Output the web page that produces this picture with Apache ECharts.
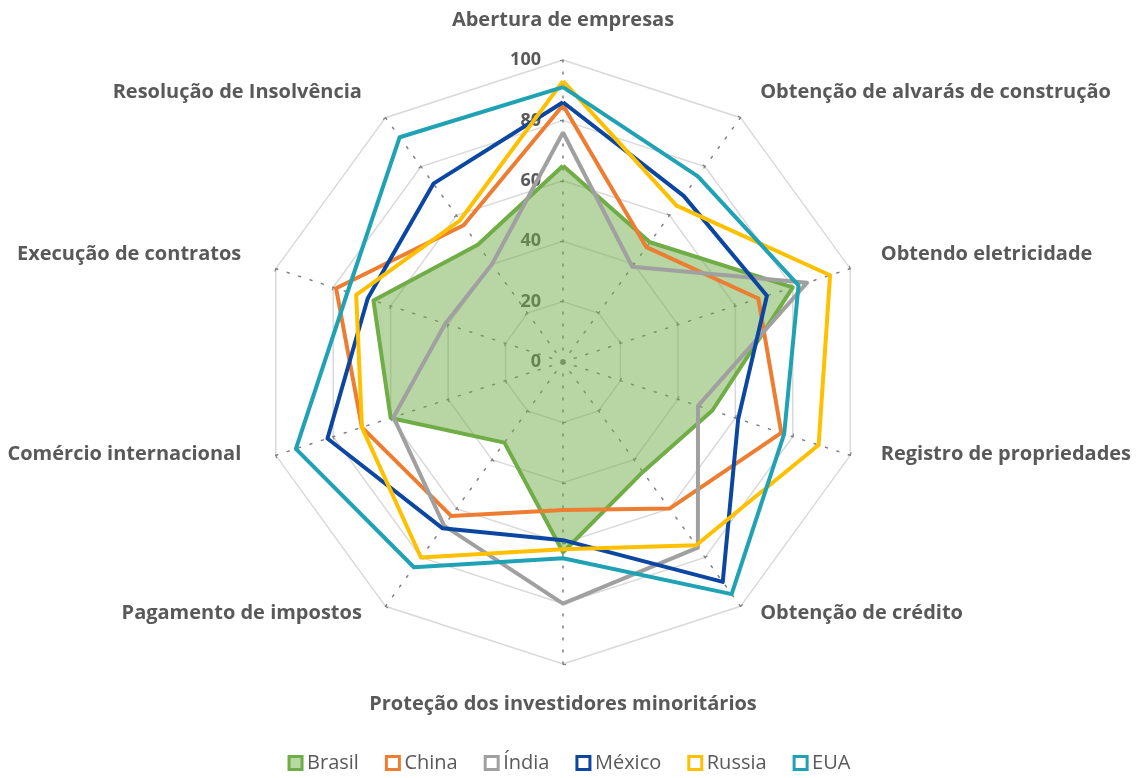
<!DOCTYPE html>
<html lang="pt">
<head>
<meta charset="utf-8" />
<title>Radar - Doing Business</title>
<script src="https://cdn.jsdelivr.net/npm/echarts@6/dist/echarts.min.js"></script>
</head>
<body style="margin:0;background:#fff">
<div id="chart" style="width:1138px;height:778px"></div>
<script>
// eixos, no sentido horário a partir do topo
const indicadores = [
  'Abertura de empresas',
  'Obtenção de alvarás de construção',
  'Obtendo eletricidade',
  'Registro de propriedades',
  'Obtenção de crédito',
  'Proteção dos investidores minoritários',
  'Pagamento de impostos',
  'Comércio internacional',
  'Execução de contratos',
  'Resolução de Insolvência'
]
const paises = ['Brasil', 'China', 'Índia', 'México', 'Russia', 'EUA']
const brasil = [65, 49, 80, 52, 45, 63, 33, 60, 66, 48]
const china  = [85, 47, 68, 76, 60, 49, 63, 70, 79, 56]
const india  = [76, 39, 85, 47, 76, 80, 67, 59, 41, 40]
const mexico = [86, 68, 71, 61, 90, 59, 68, 82, 68, 73]
const russia = [93, 64, 93, 89, 75, 62, 80, 70, 72, 58]
const eua    = [91, 76, 82, 77, 95, 65, 84, 93, 75, 92]
const cores = ['#70AD47', '#ED7D31', '#A0A0A0', '#0B47A1', '#FFC000', '#1FA2B4']

// echarts põe os eixos no sentido anti-horário, então invertemos a ordem (menos o primeiro)
const ordem = [0, 9, 8, 7, 6, 5, 4, 3, 2, 1]
const reordena = arr => ordem.map(i => arr[i])

// estilo de cada rótulo (o excel sobe um pouco os de baixo)
const fonte = { color: '#595959', fontSize: 20, fontWeight: 'bold', fontFamily: 'Open Sans' }
const estiloRotulo = [
  'topo', 'dirCima', 'dirMeio', 'dirBaixo', 'dirFundo',
  'base', 'esqFundo', 'esqBaixo', 'esqMeio', 'esqCima'
]
const rich = {
  topo: Object.assign({}, fonte),
  base: Object.assign({}, fonte),
  dirCima: Object.assign({ padding: [0, 0, 2, 2] }, fonte),
  dirMeio: Object.assign({ padding: [0, 0, 10, 2] }, fonte),
  dirBaixo: Object.assign({ padding: [0, 0, 20, 2] }, fonte),
  dirFundo: Object.assign({ padding: [0, 0, 34, 2] }, fonte),
  esqCima: Object.assign({ padding: [0, 6, 2, 0] }, fonte),
  esqMeio: Object.assign({ padding: [0, 6, 10, 0] }, fonte),
  esqBaixo: Object.assign({ padding: [0, 6, 20, 0] }, fonte),
  esqFundo: Object.assign({ padding: [0, 6, 34, 0] }, fonte)
}

const chart = echarts.init(document.getElementById('chart'))
const valores = [brasil, china, india, mexico, russia, eua]

const indicator = reordena(indicadores).map((nome, i) => {
  let ind = { name: nome, min: 0, max: 100 }
  if (i === 0) {
    ind.axisLabel = {
      show: true, color: '#595959', fontSize: 18, fontWeight: 'bold',
      fontFamily: 'Open Sans', margin: 22
    }
  }
  return ind
})

chart.setOption({
  animation: false,
  textStyle: { fontFamily: 'Open Sans' },
  legend: {
    bottom: 0,
    left: 'center',
    itemWidth: 13,
    itemHeight: 13,
    itemGap: 26,
    textStyle: { color: '#595959', fontSize: 20, fontFamily: 'Open Sans' },
    data: paises.map((p, i) => ({
      name: p,
      icon: 'rect',
      itemStyle: {
        color: i === 0 ? '#B5D9A0' : '#fff',
        borderColor: cores[i],
        borderWidth: 3
      }
    }))
  },
  radar: {
    center: [563, 362],
    radius: 302,
    startAngle: 90,
    splitNumber: 5,
    shape: 'polygon',
    indicator: indicator,
    nameGap: 30,
    axisName: {
      color: '#595959',
      fontSize: 20,
      fontWeight: 'bold',
      fontFamily: 'Open Sans',
      formatter: function (nome) {
        let k = indicadores.indexOf(nome)
        return '{' + estiloRotulo[k] + '|' + nome + '}'
      },
      rich: rich
    },
    splitArea: { show: false },
    splitLine: { lineStyle: { color: '#D9D9D9', width: 1.5 } },
    axisLine: { show: true, lineStyle: { color: '#7F7F7F', width: 1.5, type: [2, 10] } },
    axisTick: { show: true, length: 3, lineStyle: { color: '#7F7F7F', width: 1.2 } },
    axisLabel: { show: false }
  },
  series: paises.map((p, i) => ({
    name: p,
    type: 'radar',
    symbol: 'none',
    lineStyle: { color: cores[i], width: 4 },
    itemStyle: { color: cores[i] },
    areaStyle: i === 0 ? { color: '#70AD47', opacity: 0.5 } : undefined,
    data: [{ name: p, value: reordena(valores[i]) }]
  }))
})
</script>
</body>
</html>
